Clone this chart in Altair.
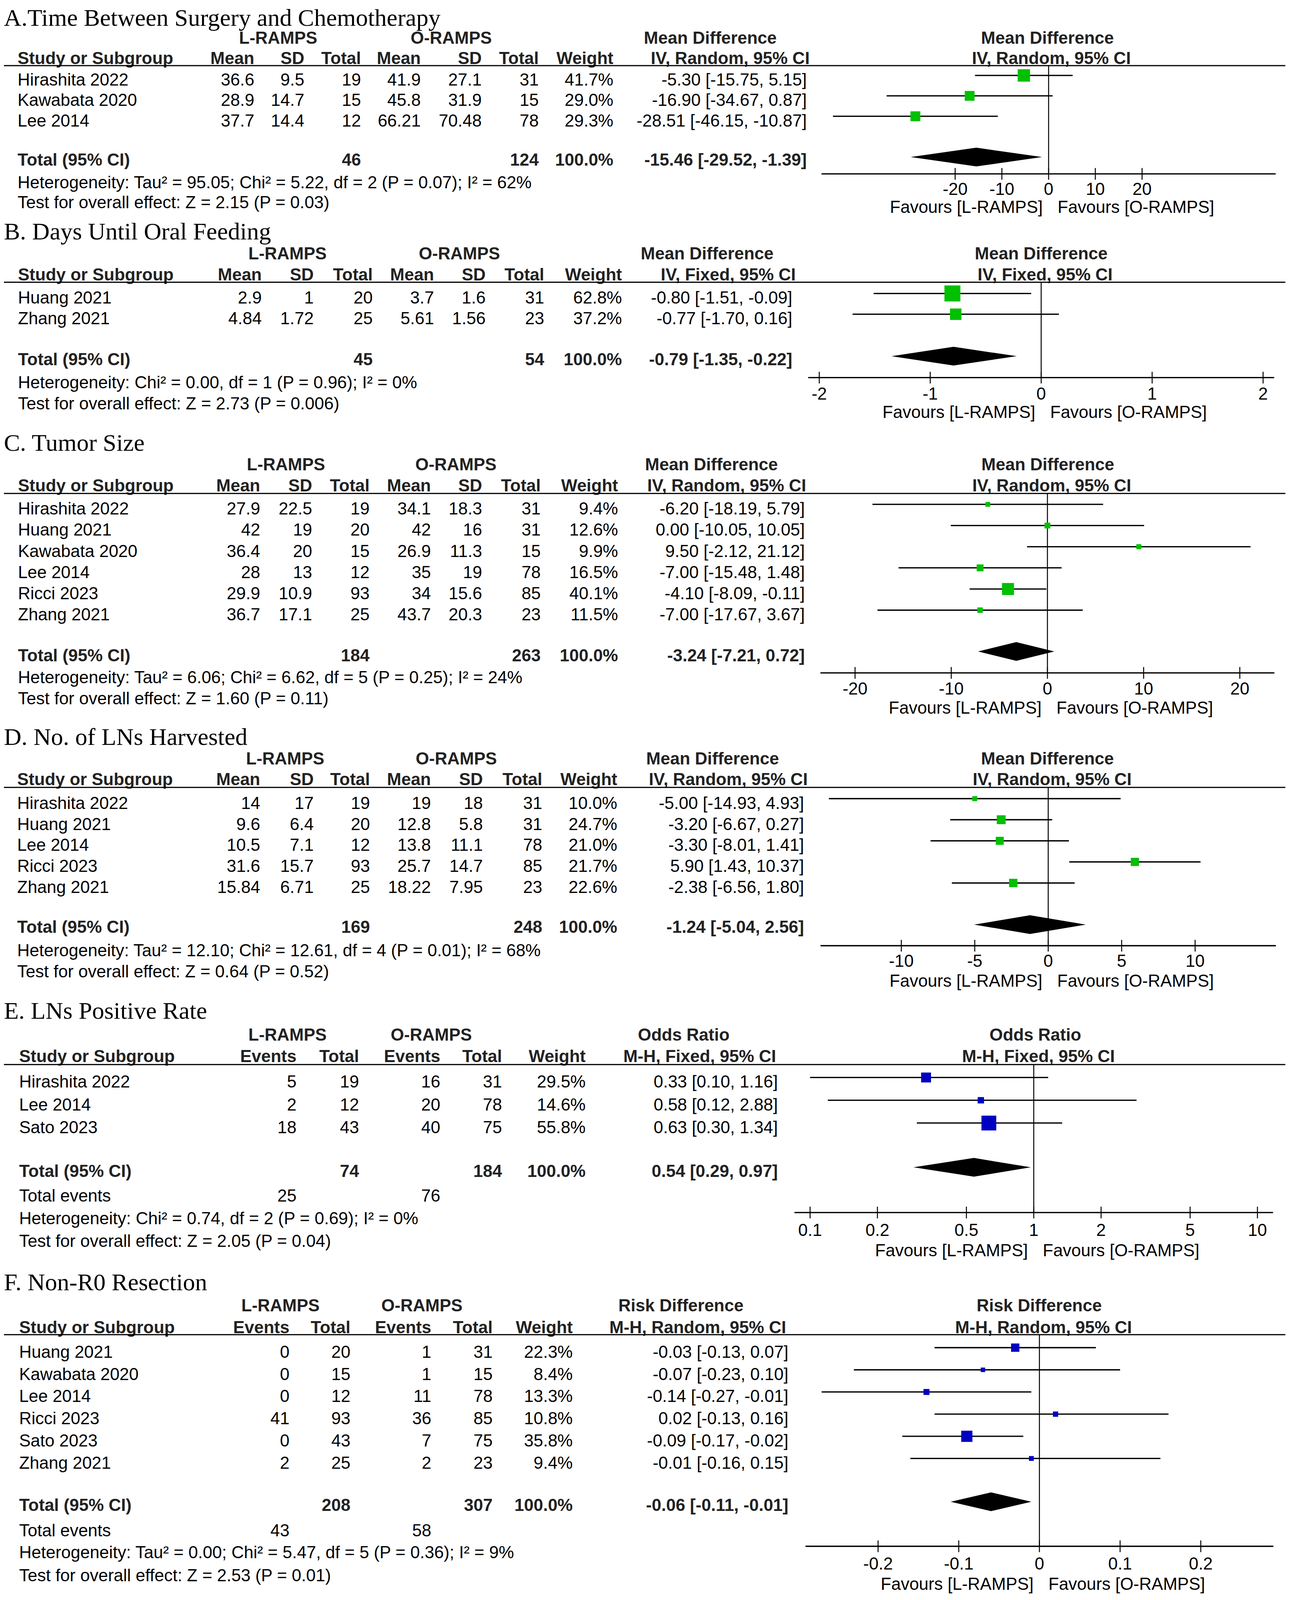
import altair as alt
import pandas as pd

# ======================= DATA =======================
A_title = "A.Time Between Surgery and Chemotherapy"
A_study = ["Hirashita 2022", "Kawabata 2020", "Lee 2014"]
A_l_mean = ["36.6", "28.9", "37.7"]
A_l_sd = ["9.5", "14.7", "14.4"]
A_l_n = ["19", "15", "12"]
A_o_mean = ["41.9", "45.8", "66.21"]
A_o_sd = ["27.1", "31.9", "70.48"]
A_o_n = ["31", "15", "78"]
A_weight = [41.7, 29.0, 29.3]
A_md = [-5.30, -16.90, -28.51]
A_lo = [-15.75, -34.67, -46.15]
A_hi = [5.15, 0.87, -10.87]
A_totals = ["46", "124"]
A_pooled = [-15.46, -29.52, -1.39]
A_het = "Heterogeneity: Tau² = 95.05; Chi² = 5.22, df = 2 (P = 0.07); I² = 62%"
A_test = "Test for overall effect: Z = 2.15 (P = 0.03)"
A_ticks = [-20, -10, 0, 10, 20]

B_title = "B. Days Until Oral Feeding"
B_study = ["Huang 2021", "Zhang 2021"]
B_l_mean = ["2.9", "4.84"]
B_l_sd = ["1", "1.72"]
B_l_n = ["20", "25"]
B_o_mean = ["3.7", "5.61"]
B_o_sd = ["1.6", "1.56"]
B_o_n = ["31", "23"]
B_weight = [62.8, 37.2]
B_md = [-0.80, -0.77]
B_lo = [-1.51, -1.70]
B_hi = [-0.09, 0.16]
B_totals = ["45", "54"]
B_pooled = [-0.79, -1.35, -0.22]
B_het = "Heterogeneity: Chi² = 0.00, df = 1 (P = 0.96); I² = 0%"
B_test = "Test for overall effect: Z = 2.73 (P = 0.006)"
B_ticks = [-2, -1, 0, 1, 2]

C_title = "C. Tumor Size"
C_study = ["Hirashita 2022", "Huang 2021", "Kawabata 2020", "Lee 2014", "Ricci 2023", "Zhang 2021"]
C_l_mean = ["27.9", "42", "36.4", "28", "29.9", "36.7"]
C_l_sd = ["22.5", "19", "20", "13", "10.9", "17.1"]
C_l_n = ["19", "20", "15", "12", "93", "25"]
C_o_mean = ["34.1", "42", "26.9", "35", "34", "43.7"]
C_o_sd = ["18.3", "16", "11.3", "19", "15.6", "20.3"]
C_o_n = ["31", "31", "15", "78", "85", "23"]
C_weight = [9.4, 12.6, 9.9, 16.5, 40.1, 11.5]
C_md = [-6.20, 0.00, 9.50, -7.00, -4.10, -7.00]
C_lo = [-18.19, -10.05, -2.12, -15.48, -8.09, -17.67]
C_hi = [5.79, 10.05, 21.12, 1.48, -0.11, 3.67]
C_totals = ["184", "263"]
C_pooled = [-3.24, -7.21, 0.72]
C_het = "Heterogeneity: Tau² = 6.06; Chi² = 6.62, df = 5 (P = 0.25); I² = 24%"
C_test = "Test for overall effect: Z = 1.60 (P = 0.11)"
C_ticks = [-20, -10, 0, 10, 20]

D_title = "D. No. of LNs Harvested"
D_study = ["Hirashita 2022", "Huang 2021", "Lee 2014", "Ricci 2023", "Zhang 2021"]
D_l_mean = ["14", "9.6", "10.5", "31.6", "15.84"]
D_l_sd = ["17", "6.4", "7.1", "15.7", "6.71"]
D_l_n = ["19", "20", "12", "93", "25"]
D_o_mean = ["19", "12.8", "13.8", "25.7", "18.22"]
D_o_sd = ["18", "5.8", "11.1", "14.7", "7.95"]
D_o_n = ["31", "31", "78", "85", "23"]
D_weight = [10.0, 24.7, 21.0, 21.7, 22.6]
D_md = [-5.00, -3.20, -3.30, 5.90, -2.38]
D_lo = [-14.93, -6.67, -8.01, 1.43, -6.56]
D_hi = [4.93, 0.27, 1.41, 10.37, 1.80]
D_totals = ["169", "248"]
D_pooled = [-1.24, -5.04, 2.56]
D_het = "Heterogeneity: Tau² = 12.10; Chi² = 12.61, df = 4 (P = 0.01); I² = 68%"
D_test = "Test for overall effect: Z = 0.64 (P = 0.52)"
D_ticks = [-10, -5, 0, 5, 10]

E_title = "E. LNs Positive Rate"
E_study = ["Hirashita 2022", "Lee 2014", "Sato 2023"]
E_l_ev = ["5", "2", "18"]
E_l_n = ["19", "12", "43"]
E_o_ev = ["16", "20", "40"]
E_o_n = ["31", "78", "75"]
E_weight = [29.5, 14.6, 55.8]
E_md = [0.33, 0.58, 0.63]
E_lo = [0.10, 0.12, 0.30]
E_hi = [1.16, 2.88, 1.34]
E_totals = ["74", "184"]
E_events = ["25", "76"]
E_pooled = [0.54, 0.29, 0.97]
E_het = "Heterogeneity: Chi² = 0.74, df = 2 (P = 0.69); I² = 0%"
E_test = "Test for overall effect: Z = 2.05 (P = 0.04)"
E_ticks = [0.1, 0.2, 0.5, 1, 2, 5, 10]

F_title = "F. Non-R0 Resection"
F_study = ["Huang 2021", "Kawabata 2020", "Lee 2014", "Ricci 2023", "Sato 2023", "Zhang 2021"]
F_l_ev = ["0", "0", "0", "41", "0", "2"]
F_l_n = ["20", "15", "12", "93", "43", "25"]
F_o_ev = ["1", "1", "11", "36", "7", "2"]
F_o_n = ["31", "15", "78", "85", "75", "23"]
F_weight = [22.3, 8.4, 13.3, 10.8, 35.8, 9.4]
F_md = [-0.03, -0.07, -0.14, 0.02, -0.09, -0.01]
F_lo = [-0.13, -0.23, -0.27, -0.13, -0.17, -0.16]
F_hi = [0.07, 0.10, -0.01, 0.16, -0.02, 0.15]
F_totals = ["208", "307"]
F_events = ["43", "58"]
F_pooled = [-0.06, -0.11, -0.01]
F_het = "Heterogeneity: Tau² = 0.00; Chi² = 5.47, df = 5 (P = 0.36); I² = 9%"
F_test = "Test for overall effect: Z = 2.53 (P = 0.01)"
F_ticks = [-0.2, -0.1, 0, 0.1, 0.2]

TOTAL_WEIGHT = 100.0

PANELS = [
    dict(key="A", title=A_title, study=A_study, kind="cont",
         cols=[A_l_mean, A_l_sd, A_l_n, A_o_mean, A_o_sd, A_o_n], weight=A_weight,
         md=A_md, lo=A_lo, hi=A_hi, totals=A_totals, events=None, pooled=A_pooled,
         het=A_het, test=A_test, ticks=A_ticks, measure="Mean Difference",
         method="IV, Random, 95% CI", log=False, color="#00C000"),
    dict(key="B", title=B_title, study=B_study, kind="cont",
         cols=[B_l_mean, B_l_sd, B_l_n, B_o_mean, B_o_sd, B_o_n], weight=B_weight,
         md=B_md, lo=B_lo, hi=B_hi, totals=B_totals, events=None, pooled=B_pooled,
         het=B_het, test=B_test, ticks=B_ticks, measure="Mean Difference",
         method="IV, Fixed, 95% CI", log=False, color="#00C000"),
    dict(key="C", title=C_title, study=C_study, kind="cont",
         cols=[C_l_mean, C_l_sd, C_l_n, C_o_mean, C_o_sd, C_o_n], weight=C_weight,
         md=C_md, lo=C_lo, hi=C_hi, totals=C_totals, events=None, pooled=C_pooled,
         het=C_het, test=C_test, ticks=C_ticks, measure="Mean Difference",
         method="IV, Random, 95% CI", log=False, color="#00C000"),
    dict(key="D", title=D_title, study=D_study, kind="cont",
         cols=[D_l_mean, D_l_sd, D_l_n, D_o_mean, D_o_sd, D_o_n], weight=D_weight,
         md=D_md, lo=D_lo, hi=D_hi, totals=D_totals, events=None, pooled=D_pooled,
         het=D_het, test=D_test, ticks=D_ticks, measure="Mean Difference",
         method="IV, Random, 95% CI", log=False, color="#00C000"),
    dict(key="E", title=E_title, study=E_study, kind="dich",
         cols=[E_l_ev, E_l_n, E_o_ev, E_o_n], weight=E_weight,
         md=E_md, lo=E_lo, hi=E_hi, totals=E_totals, events=E_events, pooled=E_pooled,
         het=E_het, test=E_test, ticks=E_ticks, measure="Odds Ratio",
         method="M-H, Fixed, 95% CI", log=True, color="#0000C0"),
    dict(key="F", title=F_title, study=F_study, kind="dich",
         cols=[F_l_ev, F_l_n, F_o_ev, F_o_n], weight=F_weight,
         md=F_md, lo=F_lo, hi=F_hi, totals=F_totals, events=F_events, pooled=F_pooled,
         het=F_het, test=F_test, ticks=F_ticks, measure="Risk Difference",
         method="M-H, Random, 95% CI", log=False, color="#0000C0"),
]

# ======================= LAYOUT (reference pixel positions) =======================
LAYOUT = {
    "A": dict(top=0, title=50, h1=97, h2=160, line=165, row0=226.5, step=61,
              tot_c=440, tot_b=466, ev=None, het=533, test=593,
              study_x=43, col_x=[649, 777, 922, 1075, 1231, 1377, 1568], ci_x=2063,
              ci_head=1867, meas_x=1816, L_x=710, O_x=1153,
              x0=2682, ppu=11.96, ext=48.6, axis=503, tick=566, fav=620, fh1=2679, fh2=2689),
    "B": dict(top=640, title=715, h1=775, h2=838, line=843, row0=907, step=62,
              tot_c=1064, tot_b=1091, ev=None, het=1160, test=1223,
              study_x=44, col_x=[668, 801, 952, 1109, 1241, 1391, 1590], ci_x=2026,
              ci_head=1862, meas_x=1808, L_x=734, O_x=1174,
              x0=2663, ppu=284, ext=2.1, axis=1128, tick=1194, fav=1249, fh1=2663, fh2=2673),
    "C": dict(top=1275, title=1346, h1=1405, h2=1468, line=1474, row0=1537, step=63.2,
              tot_c=1946, tot_b=1975, ev=None, het=2041, test=2104,
              study_x=44, col_x=[664, 797, 944, 1101, 1232, 1382, 1580], ci_x=2058,
              ci_head=1858, meas_x=1819, L_x=730, O_x=1165,
              x0=2679, ppu=24.62, ext=23.6, axis=2010, tick=2075, fav=2132, fh1=2680, fh2=2690),
    "D": dict(top=2155, title=2225, h1=2283, h2=2345, line=2352, row0=2416, step=63,
              tot_c=2762, tot_b=2787, ev=None, het=2857, test=2920,
              study_x=42, col_x=[664, 801, 945, 1101, 1234, 1386, 1578], ci_x=2056,
              ci_head=1862, meas_x=1822, L_x=728, O_x=1166,
              x0=2681, ppu=37.6, ext=15.5, axis=2825, tick=2888, fav=2947, fh1=2679, fh2=2691),
    "E": dict(top=2970, title=3043, h1=3108, h2=3173, line=3180, row0=3249, step=68,
              tot_c=3487, tot_b=3516, ev=3589, het=3657, test=3725,
              study_x=47, col_x=[757, 917, 1125, 1283, 1497], ci_x=1989,
              ci_head=1789, meas_x=1748, L_x=734, O_x=1102,
              x0=2644, ppu=572.5, ext=1.07, axis=3622, tick=3692, fav=3753, fh1=2648, fh2=2656),
    "F": dict(top=3775, title=3854, h1=3917, h2=3982, line=3987, row0=4056, step=66.2,
              tot_c=4486, tot_b=4513, ev=4589, het=4655, test=4723,
              study_x=47, col_x=[739, 895, 1102, 1259, 1464], ci_x=2016,
              ci_head=1784, meas_x=1741, L_x=716, O_x=1078,
              x0=2658.5, ppu=2065, ext=0.29, axis=4619, tick=4689, fav=4749, fh1=2658, fh2=2669),
}
# the first header block sits at the very top of the page: give it explicit page positions
A_TOP_OVERRIDE = dict(title=66, h1=112, h2=164, line=168)
A_SHIFT = dict(row0=25, tot_c=25, tot_b=25, het=25, test=25, axis=14, tick=14, fav=14)

SANS = "Liberation Sans"
SERIF = "Liberation Serif"
FS = 44
TFS = 62
INK = "#000000"
BINK = "#222222"
W = 3280
VS = 0.857            # the photographed page is 4096 px tall: scale vertical layout to fit
DY = 26
HALF_DIAMOND = 24
TICK_HALF = 15
SIZE = alt.Scale(type="pow", exponent=1.26, domain=[0, 100], range=[0, 3000])

order = [p["key"] for p in PANELS]
tops = {}
for k in order:
    tops[k] = 8 if k == "A" else round(LAYOUT[k]["top"] * VS)
bottom = round(LAYOUT["F"]["fav"] * VS) + 10
heights = {}
for i, k in enumerate(order):
    nxt = tops[order[i + 1]] if i + 1 < len(order) else bottom
    heights[k] = nxt - tops[k]


def build(p, L):
    key = p["key"]
    top = tops[key]
    H = heights[key]
    X = lambda v: v - 8

    def Yn(name):
        if key == "A" and name in A_TOP_OVERRIDE:
            return A_TOP_OVERRIDE[name] - top
        shift = A_SHIFT.get(name, 0) if key == "A" else 0
        return L[name] * VS + shift - top

    n = len(p["study"])
    step = L["step"] * VS
    c0 = Yn("row0") - DY
    ys = alt.Scale(domain=[0, 1], range=[c0, c0 + step], nice=False, zero=False)
    ext = L["ext"]
    xr = [X(L["x0"] - ext * L["ppu"]), X(L["x0"] + ext * L["ppu"])]
    if p["log"]:
        dom = [10 ** -ext, 10 ** ext]
        ref = 1
        xs = alt.Scale(type="log", domain=dom, range=xr, nice=False)
    else:
        dom = [-ext, ext]
        ref = 0
        xs = alt.Scale(domain=dom, range=xr, nice=False, zero=False)

    layers = []

    def st(text, x, y, align="left", bold=False, font=SANS, size=FS):
        layers.append(
            alt.Chart(pd.DataFrame({"t": [text]}))
            .mark_text(align=align, baseline="alphabetic", font=font, fontSize=size,
                       fontWeight="bold" if bold else "normal", color=BINK if bold else INK)
            .encode(x=alt.value(x), y=alt.value(y), text="t:N")
        )

    df = pd.DataFrame({
        "r": list(range(n)),
        "study": p["study"],
        "wt": [f"{w:.1f}%" for w in p["weight"]],
        "ci": [f"{m:.2f} [{a:.2f}, {b:.2f}]" for m, a, b in zip(p["md"], p["lo"], p["hi"])],
        "md": p["md"], "lo": p["lo"], "hi": p["hi"], "w": p["weight"],
    })
    for k, col in enumerate(p["cols"]):
        df[f"c{k}"] = col

    def rt(field, x, align="right"):
        layers.append(
            alt.Chart(df)
            .mark_text(align=align, baseline="alphabetic", font=SANS, fontSize=FS, color=INK, dy=DY)
            .encode(x=alt.value(x), y=alt.Y("r:Q", scale=ys, axis=None), text=f"{field}:N")
        )

    # title and header row 1
    h1y = Yn("h1")
    st(p["title"], 0, Yn("title"), font=SERIF, size=TFS)
    st("L-RAMPS", X(L["L_x"]), h1y, align="center", bold=True)
    st("O-RAMPS", X(L["O_x"]), h1y, align="center", bold=True)
    st(p["measure"], X(L["meas_x"]), h1y, align="center", bold=True)
    st(p["measure"], X(L["fh1"]), h1y, align="center", bold=True)
    # header row 2
    if p["kind"] == "cont":
        heads = ["Mean", "SD", "Total", "Mean", "SD", "Total", "Weight"]
        tot_idx = (2, 5)
        ev_idx = None
    else:
        heads = ["Events", "Total", "Events", "Total", "Weight"]
        tot_idx = (1, 3)
        ev_idx = (0, 2)
    h2y = Yn("h2")
    st("Study or Subgroup", X(L["study_x"]), h2y, bold=True)
    for h, cx in zip(heads, L["col_x"]):
        st(h, X(cx), h2y, align="right", bold=True)
    st(p["method"], X(L["ci_head"]), h2y, align="center", bold=True)
    st(p["method"], X(L["fh2"]), h2y, align="center", bold=True)
    liney = Yn("line")
    layers.append(
        alt.Chart(pd.DataFrame({"t": [0]})).mark_rule(color="black", strokeWidth=3)
        .encode(x=alt.value(0), x2=alt.value(W), y=alt.value(liney))
    )
    # study rows
    rt("study", X(L["study_x"]), align="left")
    for k in range(len(p["cols"])):
        rt(f"c{k}", X(L["col_x"][k]))
    rt("wt", X(L["col_x"][-1]))
    rt("ci", X(L["ci_x"]))
    # total row
    tb = Yn("tot_b")
    st("Total (95% CI)", X(L["study_x"]), tb, bold=True)
    st(p["totals"][0], X(L["col_x"][tot_idx[0]]), tb, align="right", bold=True)
    st(p["totals"][1], X(L["col_x"][tot_idx[1]]), tb, align="right", bold=True)
    st(f"{TOTAL_WEIGHT:.1f}%", X(L["col_x"][-1]), tb, align="right", bold=True)
    pm, plo, phi = p["pooled"]
    st(f"{pm:.2f} [{plo:.2f}, {phi:.2f}]", X(L["ci_x"]), tb, align="right", bold=True)
    if p["events"] is not None:
        eb = Yn("ev")
        st("Total events", X(L["study_x"]), eb)
        st(p["events"][0], X(L["col_x"][ev_idx[0]]), eb, align="right")
        st(p["events"][1], X(L["col_x"][ev_idx[1]]), eb, align="right")
    st(p["het"], X(L["study_x"]), Yn("het"))
    st(p["test"], X(L["study_x"]), Yn("test"))

    # ---- forest plot ----
    ex = lambda f: alt.X(f"{f}:Q", scale=xs, axis=None)
    ey = lambda f: alt.Y(f"{f}:Q", scale=ys, axis=None)
    ay = Yn("axis")
    layers.append(
        alt.Chart(pd.DataFrame({"v": [ref]})).mark_rule(color="black", strokeWidth=2.5)
        .encode(x=ex("v"), y=alt.value(liney), y2=alt.value(ay))
    )
    layers.append(
        alt.Chart(pd.DataFrame({"a": [dom[0]], "b": [dom[1]]})).mark_rule(color="black", strokeWidth=3.3)
        .encode(x=ex("a"), x2=alt.X2("b"), y=alt.value(ay))
    )
    tdf = pd.DataFrame({"t": p["ticks"], "lab": [f"{t:g}" for t in p["ticks"]]})
    layers.append(
        alt.Chart(tdf).mark_rule(color="black", strokeWidth=2.5)
        .encode(x=ex("t"), y=alt.value(ay - TICK_HALF), y2=alt.value(ay + TICK_HALF))
    )
    layers.append(
        alt.Chart(tdf).mark_text(align="center", baseline="alphabetic", font=SANS, fontSize=FS, color=INK)
        .encode(x=ex("t"), y=alt.value(Yn("tick")), text="lab:N")
    )
    fdf = pd.DataFrame({"v": [ref], "a": ["Favours [L-RAMPS]"], "b": ["Favours [O-RAMPS]"]})
    layers.append(
        alt.Chart(fdf).mark_text(align="right", baseline="alphabetic", font=SANS, fontSize=FS, color=INK, dx=-15)
        .encode(x=ex("v"), y=alt.value(Yn("fav")), text="a:N")
    )
    layers.append(
        alt.Chart(fdf).mark_text(align="left", baseline="alphabetic", font=SANS, fontSize=FS, color=INK, dx=23)
        .encode(x=ex("v"), y=alt.value(Yn("fav")), text="b:N")
    )
    layers.append(
        alt.Chart(df).mark_rule(color="black", strokeWidth=3.3)
        .encode(x=ex("lo"), x2=alt.X2("hi"), y=ey("r"))
    )
    layers.append(
        alt.Chart(df).mark_square(color=p["color"], opacity=1, strokeWidth=0)
        .encode(x=ex("md"), y=ey("r"), size=alt.Size("w:Q", scale=SIZE, legend=None))
    )
    rtot = (Yn("tot_c") - c0) / step
    hh = HALF_DIAMOND / step
    ddf = pd.DataFrame({"x": [plo, pm, phi], "ya": [rtot, rtot - hh, rtot], "yb": [rtot, rtot + hh, rtot]})
    layers.append(
        alt.Chart(ddf).mark_area(color="black", orient="vertical", opacity=1)
        .encode(x=ex("x"), y=ey("ya"), y2=alt.Y2("yb"))
    )

    return alt.layer(*layers).properties(width=W, height=H)


panels = [build(p, LAYOUT[p["key"]]) for p in PANELS]
chart = (
    alt.vconcat(*panels, spacing=0, bounds="flush")
    .properties(padding=0)
    .configure_view(strokeWidth=0)
)
chart.save("out.html", embed_options={"renderer": "svg", "actions": False})
